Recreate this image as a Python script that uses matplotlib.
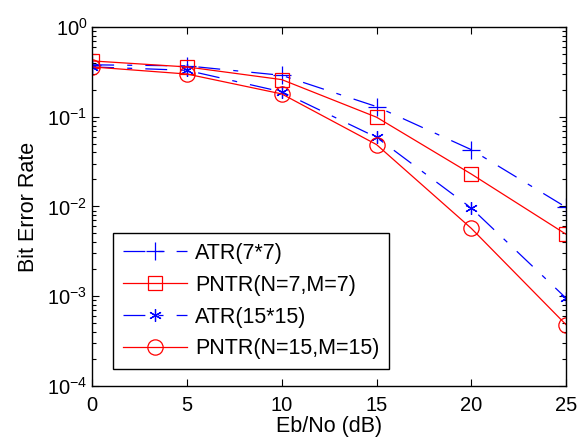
#! /usr/bin/env python

# import modules
# --------------
import numpy
import matplotlib
matplotlib.use('Agg')
import matplotlib.pyplot
from matplotlib.ticker import LogLocator, NullFormatter

# data
# ---------------------------
ebno = [0, 5, 10, 15, 20, 25]
atr_7 = [0.38, 0.37, 0.29, 0.13, 0.043, 0.0098]
pntr_7 = [0.42, 0.36, 0.26, 0.099, 0.023, 0.0049]
atr_15 = [0.36, 0.33, 0.19, 0.059, 0.0096, 0.00095]
pntr_15 = [0.36, 0.30, 0.18, 0.049, 0.0057, 0.00048]
labels = ['ATR(7*7)', 'PNTR(N=7,M=7)', 'ATR(15*15)', 'PNTR(N=15,M=15)']

matplotlib.pyplot.rcParams['font.family'] = ['Liberation Sans', 'DejaVu Sans']

fig = matplotlib.pyplot.figure(figsize=(5.8, 4.45), dpi=100)
ax = fig.add_axes([0.159, 0.133, 0.817, 0.806])

# plot lines --
dashdot = (0, (17.5, 10.5, 4, 10.5))
ax.semilogy(ebno, atr_7, color='blue', ls=dashdot, lw=0.9, marker='+',
            ms=12.5, mew=0.9, label=labels[0])
ax.semilogy(ebno, pntr_7, color='red', ls='-', lw=0.9, marker='s',
            ms=9.5, mew=0.9, mfc='none', label=labels[1])
ax.semilogy(ebno, atr_15, color='blue', ls=dashdot, lw=0.9, marker=(6, 2, 0),
            ms=9, mew=0.9, label=labels[2])
ax.semilogy(ebno, pntr_15, color='red', ls='-', lw=0.9, marker='o',
            ms=11, mew=0.9, mfc='none', label=labels[3])

# axes --
ax.set_xlim(0, 25)
ax.set_ylim(1e-4, 1)
ax.set_xticks([0, 5, 10, 15, 20, 25])
ax.yaxis.set_minor_locator(LogLocator(base=10, subs=numpy.arange(2, 10)))
ax.yaxis.set_minor_formatter(NullFormatter())
ax.tick_params(which='both', direction='in', top=True, right=True,
               labelsize=14.5, width=0.8)
ax.tick_params(which='major', length=5)
ax.tick_params(which='minor', length=3)
ax.tick_params(axis='x', pad=7)
for sp in ax.spines.values():
    sp.set_linewidth(1.0)

ax.set_xlabel('Eb/No (dB)', fontsize=15.5, labelpad=1)
ax.set_ylabel('Bit Error Rate', fontsize=15.5, labelpad=6)

# legend --
leg = ax.legend(loc='lower left', bbox_to_anchor=(0.044, 0.047), fontsize=15.5,
                fancybox=False, framealpha=1, edgecolor='black',
                handlelength=3.0, handletextpad=0.35, borderpad=0.45,
                labelspacing=0.5, borderaxespad=0)
leg.get_frame().set_linewidth(1.0)

fig.savefig('out.png', dpi=100)
